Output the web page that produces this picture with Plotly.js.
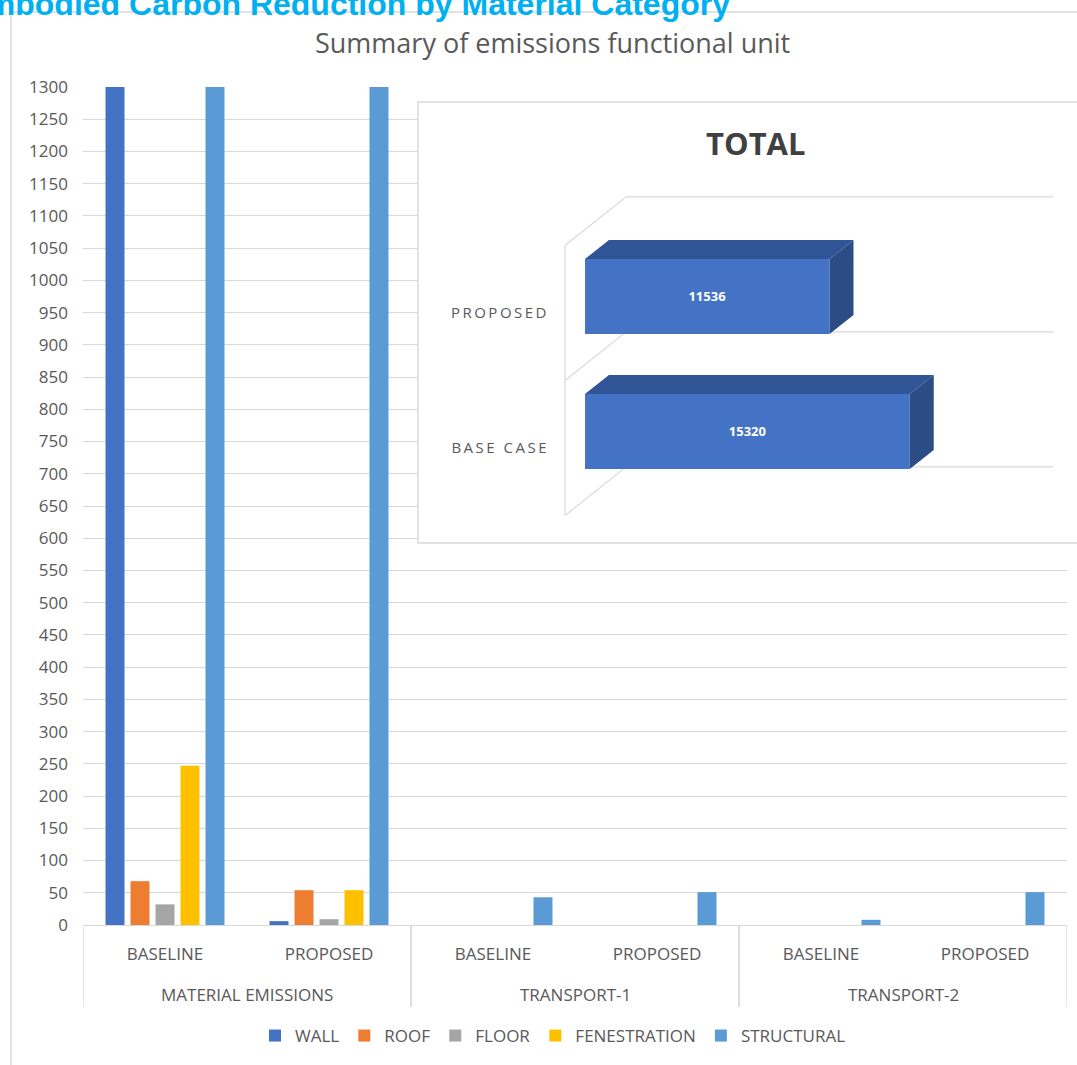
<!DOCTYPE html>
<html>
<head>
<meta charset="utf-8">
<script src="https://cdn.plot.ly/plotly-3.0.1.min.js"></script>
<style>
  html, body { margin: 0; padding: 0; background: #ffffff; }
  #chart { width: 1077px; height: 1065px; }
  .y2tick text { letter-spacing: 2.5px; }
</style>
</head>
<body>
<div id="chart"></div>
<script>
// Emission categories and scenarios (two-level x axis)
const groups = ['MATERIAL EMISSIONS', 'MATERIAL EMISSIONS', 'TRANSPORT-1', 'TRANSPORT-1', 'TRANSPORT-2', 'TRANSPORT-2'];
const scenarios = ['BASELINE', 'PROPOSED', 'BASELINE', 'PROPOSED', 'BASELINE', 'PROPOSED'];

// Emissions per material, one value per (category, scenario)
const wall         = [4150, 6, 0, 0, 0, 0];
const roof         = [68, 54, 0, 0, 0, 0];
const floorVals    = [32, 9, 0, 0, 0, 0];
const fenestration = [247, 54, 0, 0, 0, 0];
const structural   = [10772, 11311, 43, 51, 8, 51];

const materialNames  = ['WALL', 'ROOF', 'FLOOR', 'FENESTRATION', 'STRUCTURAL'];
const materialColors = ['#4472C4', '#ED7D31', '#A5A5A5', '#FFC000', '#5B9BD5'];
const materialSeries = [wall, roof, floorVals, fenestration, structural];

// Totals for the inset bar chart
const totalLabels = ['BASE CASE', 'PROPOSED'];
const totals      = [15320, 11536];

// Y-axis ticks of the main chart
const yTickStep = 50;
const yMax = 1300;

const W = 1077, H = 1065;
const px = v => v / W;             // horizontal pixel -> paper fraction
const py = v => (H - v) / H;       // vertical pixel -> paper fraction

const axisFont = { family: 'Open Sans, sans-serif', size: 17, color: '#595959' };

// slot index of each (category, scenario) pair on the x axis
const slots = scenarios.map((_, i) => i);

const traces = materialSeries.map((vals, i) => ({
  type: 'bar',
  name: materialNames[i],
  x: slots,
  y: vals,
  customdata: groups.map((g, k) => g + ' / ' + scenarios[k]),
  marker: { color: materialColors[i] },
  hovertemplate: '%{customdata}<br>%{y}<extra>' + materialNames[i] + '</extra>'
}));

// Inset: front faces of the 3D total bars
const totalPos = totalLabels.map((_, i) => i);
const BAR_OFFSET = -0.155, BAR_WIDTH = 0.555;
traces.push({
  type: 'bar',
  orientation: 'h',
  x: totals,
  y: totalPos,
  offset: BAR_OFFSET,
  width: BAR_WIDTH,
  xaxis: 'x2',
  yaxis: 'y2',
  marker: { color: '#4472C4' },
  text: totals.map(String),
  textposition: 'inside',
  insidetextanchor: 'middle',
  textangle: 0,
  textfont: { family: 'Open Sans, sans-serif', size: 13, color: '#ffffff', weight: 'bold' },
  showlegend: false,
  hoverinfo: 'skip'
});

// 3D depth of the inset bars and walls, in data units of x2 / y2
const DEPTH_X = 1130, DEPTH_Y = 0.14;
const WALL_X = -943, WALL_DX = 2880, WALL_DY = 0.36, GRID_END = 22075;
const lineStyle = { color: '#d9d9d9', width: 1.2 };
const dividerStyle = { color: '#d9d9d9', width: 1.3 };

const shapes = [];
const annotations = [];

// outer frame of the chart area
shapes.push({
  type: 'rect', xref: 'paper', yref: 'paper',
  x0: px(11), x1: px(1100), y0: py(1100), y1: py(12),
  line: { color: '#d9d9d9', width: 1.5 }, fillcolor: 'rgba(0,0,0,0)', layer: 'below'
});

// category group labels and dividers under the x axis
const groupNames = [...new Set(groups)];
groupNames.forEach(g => {
  const idx = slots.filter(i => groups[i] === g);
  const first = idx[0], last = idx[idx.length - 1];
  annotations.push({
    text: g, xref: 'x', yref: 'paper',
    x: (first + last) / 2, y: py(995), xanchor: 'center', yanchor: 'middle',
    showarrow: false, font: axisFont
  });
  [first - 0.5, last + 0.5].forEach(xv => {
    shapes.push({
      type: 'line', xref: 'x', yref: 'paper',
      x0: xv, x1: xv, y0: py(925), y1: py(1007),
      line: dividerStyle, layer: 'below'
    });
  });
});

// white panel behind the inset (clipped to the inset subplot)
shapes.push({
  type: 'rect', xref: 'x2', yref: 'y2',
  x0: -1e6, x1: 1e6, y0: -100, y1: 100,
  fillcolor: '#ffffff', line: { width: 0 }, layer: 'below'
});

// inset walls: left wall edge, floor diagonals and back-wall gridlines
const boundaries = [-0.5, 0.5, 1.5];
shapes.push({
  type: 'line', xref: 'x2', yref: 'y2',
  x0: WALL_X, x1: WALL_X, y0: boundaries[0], y1: boundaries[boundaries.length - 1],
  line: lineStyle, layer: 'below'
});
boundaries.forEach(b => {
  shapes.push({
    type: 'line', xref: 'x2', yref: 'y2',
    x0: WALL_X, y0: b, x1: WALL_X + WALL_DX, y1: b + WALL_DY,
    line: lineStyle, layer: 'below'
  });
  shapes.push({
    type: 'line', xref: 'x2', yref: 'y2',
    x0: WALL_X + WALL_DX, y0: b + WALL_DY, x1: GRID_END, y1: b + WALL_DY,
    line: lineStyle, layer: 'below'
  });
});

// top and side faces of each total bar, derived from the same totals
totals.forEach((v, i) => {
  const yb = totalPos[i] + BAR_OFFSET;
  const yt = yb + BAR_WIDTH;
  shapes.push({
    type: 'path', xref: 'x2', yref: 'y2', layer: 'above',
    path: `M0,${yt} L${DEPTH_X},${yt + DEPTH_Y} L${v + DEPTH_X},${yt + DEPTH_Y} L${v},${yt} Z`,
    fillcolor: '#2F5597', line: { width: 0 }
  });
  shapes.push({
    type: 'path', xref: 'x2', yref: 'y2', layer: 'above',
    path: `M${v},${yt} L${v + DEPTH_X},${yt + DEPTH_Y} L${v + DEPTH_X},${yb + DEPTH_Y} L${v},${yb} Z`,
    fillcolor: '#2C4C86', line: { width: 0 }
  });
});

// inset border
shapes.push({
  type: 'rect', xref: 'paper', yref: 'paper',
  x0: px(418), x1: px(1090), y0: py(543), y1: py(102),
  line: { color: '#d9d9d9', width: 1.5 }, fillcolor: 'rgba(0,0,0,0)', layer: 'above'
});

annotations.push(
  {
    text: 'Summary of emissions functional unit',
    xref: 'paper', yref: 'paper',
    x: px(552), y: py(43), xanchor: 'center', yanchor: 'middle',
    showarrow: false,
    font: { family: 'Open Sans, sans-serif', size: 27, color: '#595959' }
  },
  {
    text: 'TOTAL',
    xref: 'paper', yref: 'paper',
    x: px(755), y: py(143), xanchor: 'center', yanchor: 'middle',
    showarrow: false,
    font: { family: 'Open Sans, sans-serif', size: 31, color: '#404040', weight: 'bold' }
  }
);

const layout = {
  width: W,
  height: H,
  margin: { l: 0, r: 0, t: 0, b: 0 },
  paper_bgcolor: '#ffffff',
  plot_bgcolor: 'rgba(0,0,0,0)',
  font: axisFont,
  title: {
    text: 'Embodied Carbon Reduction by Material Category',
    font: { family: 'Liberation Sans, Arial, sans-serif', size: 32, color: '#00B0F0', weight: 'bold' },
    xref: 'container', x: px(730), xanchor: 'right',
    yref: 'container', y: py(15), yanchor: 'bottom'
  },
  barmode: 'group',
  bargap: 0.238,
  bargroupgap: 0.24,
  xaxis: {
    domain: [px(83), px(1067)],
    anchor: 'y',
    range: [-0.5, slots.length - 0.5],
    tickvals: slots,
    ticktext: scenarios,
    showline: true,
    linecolor: '#d9d9d9',
    linewidth: 1.3,
    showgrid: false,
    zeroline: false,
    ticks: '',
    ticklabelstandoff: 13,
    tickfont: axisFont,
    fixedrange: true
  },
  yaxis: {
    domain: [py(925), py(87)],
    anchor: 'x',
    range: [0, yMax],
    dtick: yTickStep,
    tick0: 0,
    showgrid: true,
    gridcolor: '#d9d9d9',
    gridwidth: 1.4,
    zeroline: false,
    showline: false,
    ticks: '',
    ticklabelstandoff: 14,
    tickfont: axisFont,
    fixedrange: true
  },
  xaxis2: {
    domain: [px(418), 1],
    anchor: 'y2',
    range: [-7877, 23208],
    visible: false,
    fixedrange: true
  },
  yaxis2: {
    domain: [py(543), py(102)],
    anchor: 'free',
    position: px(549),
    range: [-0.7037, 2.563],
    tickvals: totalPos,
    ticktext: totalLabels,
    showgrid: false,
    zeroline: false,
    showline: false,
    ticks: '',
    tickfont: { family: 'Open Sans, sans-serif', size: 15, color: '#595959' },
    fixedrange: true
  },
  legend: {
    orientation: 'h',
    x: px(553), xanchor: 'center',
    y: py(1036), yanchor: 'middle',
    font: { family: 'Open Sans, sans-serif', size: 17, color: '#595959' },
    itemwidth: 30,
    traceorder: 'normal'
  },
  annotations: annotations,
  shapes: shapes
};

Plotly.newPlot('chart', traces, layout, { displayModeBar: false, responsive: false });
</script>
</body>
</html>
